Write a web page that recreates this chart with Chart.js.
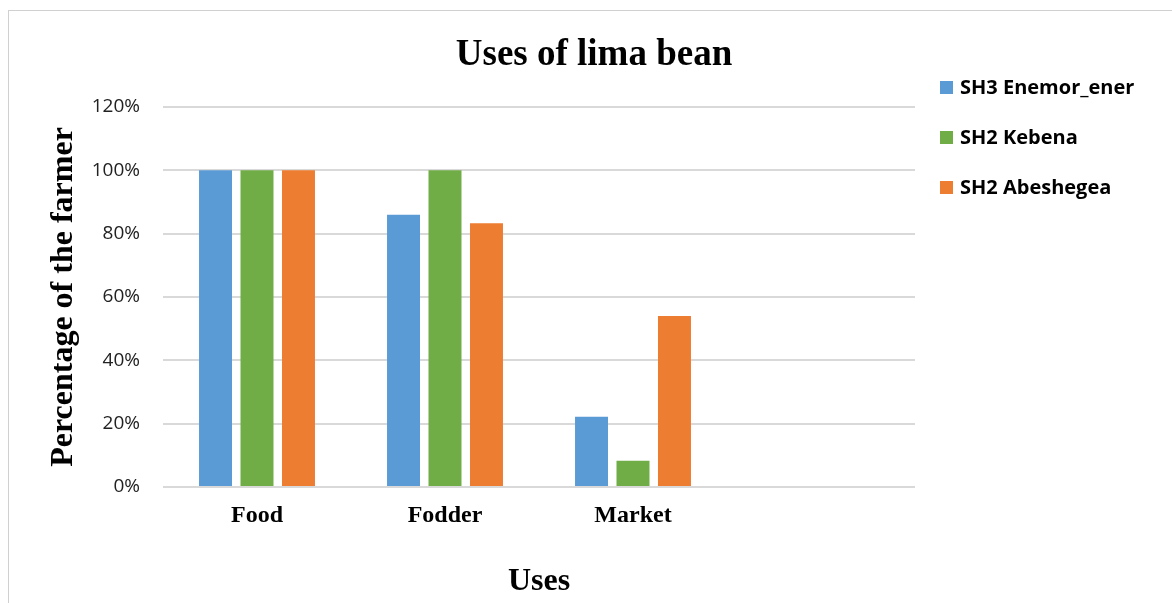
<!DOCTYPE html>
<html>
<head>
<meta charset="utf-8">
<title>Uses of lima bean</title>
<script src="https://cdn.jsdelivr.net/npm/chart.js@4/dist/chart.umd.min.js"></script>
<style>
  html, body { margin: 0; padding: 0; background: #ffffff; }
  #wrap { position: relative; width: 1172px; height: 603px; overflow: hidden; }
  #frame {
    position: absolute; left: 8px; top: 10px; width: 1300px; height: 700px;
    border-left: 1px solid #d0d0d0; border-top: 1px solid #d0d0d0;
  }
  #chart { position: absolute; left: 0; top: 0; }
</style>
</head>
<body>
<div id="wrap">
  <div id="frame"></div>
  <canvas id="chart" width="1172" height="603"></canvas>
</div>
<script>
// Categories (the fourth slot is left empty on the axis)
const categories = ['Food', 'Fodder', 'Market', ''];

// Share of farmers (%) per use, one array per site
const seriesNames = ['SH3 Enemor_ener', 'SH2 Kebena', 'SH2 Abeshegea'];
const enemorEner = [100, 86, 22.2, null];
const kebena = [100, 100, 8.3, null];
const abeshegea = [100, 83.3, 54, null];

// Value axis ticks
const yTickValues = [0, 20, 40, 60, 80, 100, 120];

const colors = ['#5b9bd5', '#70ad47', '#ed7d31'];
const serifBold = { family: "'Liberation Serif', 'Times New Roman', serif", weight: 'bold' };

// Legend drawn at the right of the plot, stacked vertically
const sideLegend = {
  id: 'sideLegend',
  afterDraw(chart) {
    const ctx = chart.ctx;
    ctx.save();
    ctx.font = "bold 20px 'Open Sans', sans-serif";
    ctx.textBaseline = 'middle';
    ctx.textAlign = 'left';
    chart.data.datasets.forEach((ds, i) => {
      const cy = 87.5 + i * 50;
      ctx.fillStyle = ds.backgroundColor;
      ctx.fillRect(940, cy - 6.5, 13, 13);
      ctx.fillStyle = '#000000';
      ctx.fillText(ds.label, 960, cy + 1);
    });
    ctx.restore();
  }
};

new Chart(document.getElementById('chart'), {
  type: 'bar',
  data: {
    labels: categories,
    datasets: [
      { label: seriesNames[0], data: enemorEner, backgroundColor: colors[0] },
      { label: seriesNames[1], data: kebena, backgroundColor: colors[1] },
      { label: seriesNames[2], data: abeshegea, backgroundColor: colors[2] }
    ]
  },
  options: {
    responsive: false,
    animation: false,
    layout: { padding: { left: 16, right: 0, top: 0, bottom: 0 } },
    datasets: { bar: { categoryPercentage: 0.662, barPercentage: 0.795 } },
    plugins: {
      legend: { display: false },
      tooltip: { enabled: false },
      title: {
        display: true,
        text: 'Uses of lima bean',
        color: '#000000',
        font: { ...serifBold, size: 37 },
        padding: { top: 33, bottom: 29.6 }
      }
    },
    scales: {
      x: {
        grid: { display: false, drawTicks: false },
        border: { display: false },
        ticks: {
          color: '#000000',
          padding: 14,
          font: { ...serifBold, size: 24 }
        },
        title: {
          display: true,
          text: 'Uses',
          color: '#000000',
          font: { ...serifBold, size: 32 },
          padding: { top: 0, bottom: 2 }
        },
        afterFit(scale) { scale.height = 116; }
      },
      y: {
        min: yTickValues[0],
        max: yTickValues[yTickValues.length - 1],
        afterBuildTicks(scale) { scale.ticks = yTickValues.map(v => ({ value: v })); },
        grid: { color: '#d9d9d9', lineWidth: 2, drawTicks: false },
        border: { display: false },
        ticks: {
          color: '#222222',
          padding: 23,
          font: { family: "'Open Sans', sans-serif", size: 19 },
          callback: v => v + '%'
        },
        title: {
          display: true,
          text: 'Percentage of the farmer',
          color: '#000000',
          font: { ...serifBold, size: 32 },
          padding: { top: 28.8, bottom: 0 }
        },
        afterFit(scale) { scale.width = 147; }
      },
      legendSpace: {
        type: 'linear',
        position: 'right',
        display: true,
        grid: { display: false, drawTicks: false },
        border: { display: false },
        ticks: { display: false },
        afterFit(scale) { scale.width = 257; }
      }
    }
  },
  plugins: [sideLegend]
});
</script>
</body>
</html>
